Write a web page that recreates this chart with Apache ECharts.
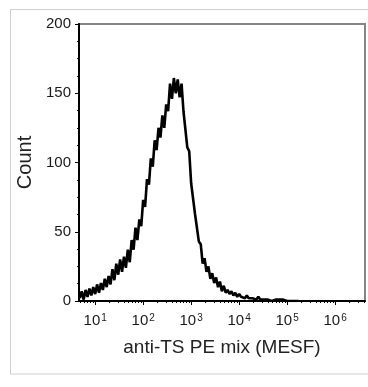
<!DOCTYPE html>
<html>
<head>
<meta charset="utf-8">
<script src="https://cdn.jsdelivr.net/npm/echarts@6/dist/echarts.min.js"></script>
<style>html,body{margin:0;padding:0;background:#fff;}#c{width:368px;height:387px;}</style>
</head>
<body>
<div id="c"></div>
<script>
// Histogram bins: centers in log10(MESF) space, regular step
const binLogStart = 0.68;
const binLogStep = 0.04;
// Counts, one per bin
const counts = [
  2, 7, 1, 8, 3, 9, 4, 10, 5, 12,
  6, 13, 8, 16, 10, 18, 12, 23, 15, 27,
  19, 30, 21, 32, 24, 37, 28, 44, 37, 53,
  44, 59, 54, 73, 68, 88, 84, 103, 97, 116,
  109, 125, 118, 134, 125, 142, 137, 157, 146, 161,
  150, 160, 147, 157, 137, 138, 111, 108, 85, 84,
  63, 62, 43, 41, 27, 31, 21, 25, 16, 20,
  13, 17, 10, 14, 7, 11, 6, 8, 5, 7,
  4, 6, 3, 5, 3, 4, 2, 4, 2, 3,
  2, 3, 1, 3, 1, 2, 1, 2, 1, 2,
  0, 1, 1, 0, 1, 0, 1, 0, 0, 1,
  0, 0, 0, 0, 0
];
const xMin = 4.6;
const xMax = 4.2e6;
const majorTicks = [1e1, 1e2, 1e3, 1e4, 1e5, 1e6];
const minorMultipliers = [2, 3, 4, 5, 6, 7, 8, 9];
const yTicks = [0, 50, 100, 150, 200];
const xName = 'anti-TS PE mix (MESF)';
const yName = 'Count';

const seriesData = counts.map((c, i) => [Math.pow(10, binLogStart + i * binLogStep), c]);
const minorTicks = [];
for (let k = 0; k <= 6; k++) {
  minorMultipliers.forEach(m => {
    const v = m * Math.pow(10, k);
    if (v > xMin && v < xMax) minorTicks.push(v);
  });
}

const chart = echarts.init(document.getElementById('c'), null, {renderer: 'canvas'});
const font = 'Arial, "Liberation Sans", sans-serif';
chart.setOption({
  animation: false,
  backgroundColor: '#fff',
  graphic: [{
    type: 'rect', z: -10, silent: true,
    shape: {x: 10.5, y: 9.5, width: 370, height: 364.5},
    style: {fill: 'none', stroke: '#cfcfcf', lineWidth: 1}
  }],
  grid: {
    left: 79, right: 3, top: 24, bottom: 86,
    show: true, borderColor: '#858585', borderWidth: 2, backgroundColor: 'transparent'
  },
  xAxis: [{
    type: 'log', min: xMin, max: xMax, logBase: 10,
    name: xName, nameLocation: 'middle', nameGap: 37,
    nameTextStyle: {fontFamily: font, fontSize: 19, color: '#222'},
    axisLine: {show: true, lineStyle: {color: '#000', width: 2}},
    axisTick: {show: true, customValues: majorTicks, length: 4, lineStyle: {color: '#000', width: 1}},
    axisLabel: {
      customValues: majorTicks,
      margin: 12,
      formatter: function (v) {
        const e = Math.round(Math.log10(v));
        return '{b|10}{s|' + e + '}';
      },
      rich: {
        b: {fontFamily: font, fontSize: 15, color: '#1a1a1a'},
        s: {fontFamily: font, fontSize: 10, color: '#1a1a1a', verticalAlign: 'top', padding: [0, 0, 0, 1]}
      }
    },
    splitLine: {show: false},
    minorTick: {show: false}
  }, {
    type: 'log', min: xMin, max: xMax, logBase: 10, position: 'bottom',
    axisLine: {show: false},
    axisLabel: {show: false},
    axisTick: {show: true, customValues: minorTicks, length: 2, lineStyle: {color: '#000', width: 1}},
    splitLine: {show: false}
  }],
  yAxis: {
    type: 'value', min: 0, max: 200, interval: 50,
    name: yName, nameLocation: 'middle', nameGap: 38, nameRotate: 90,
    nameTextStyle: {fontFamily: font, fontSize: 20, color: '#222'},
    axisLine: {show: true, lineStyle: {color: '#000', width: 2}},
    axisTick: {show: true, length: 4, lineStyle: {color: '#000', width: 1}},
    minorTick: {show: true, splitNumber: 4, length: 2, lineStyle: {color: '#000', width: 1}},
    axisLabel: {
      margin: 8, fontFamily: font, fontSize: 15, color: '#1a1a1a',
      customValues: yTicks
    },
    splitLine: {show: false}
  },
  series: [{
    type: 'line', xAxisIndex: 0, yAxisIndex: 0,
    data: seriesData,
    showSymbol: false, symbol: 'none',
    lineStyle: {color: '#000', width: 2.6},
    z: 1
  }]
});
</script>
</body>
</html>
